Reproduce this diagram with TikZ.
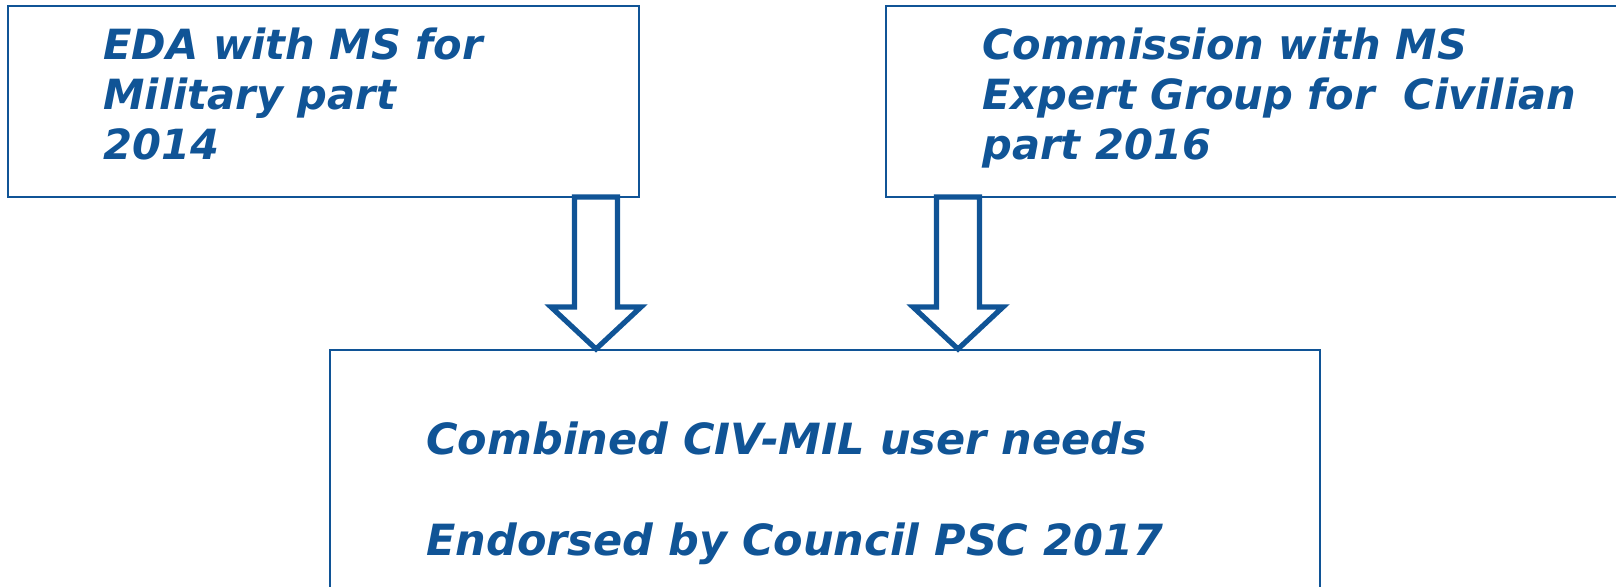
\documentclass[tikz,border=0pt]{standalone}
\usepackage{fontspec}
\setmainfont{DejaVu Sans}
\usepackage{xcolor}
\definecolor{eublue}{RGB}{16,84,150}
\usetikzlibrary{positioning}

\begin{document}
\begin{tikzpicture}[x=0.5pt,y=-0.5pt]
	\tikzstyle{every node}+=[inner sep=0pt]
	\tikzstyle{box}=[draw=eublue, line width=1pt, rectangle, outer sep=0pt, anchor=north west]
	\tikzstyle{lbl}=[text=eublue, font=\fontsize{20.8}{25}\selectfont\bfseries\itshape, align=left, anchor=base west]
	\tikzstyle{hollow}=[draw=eublue, line width=2.6pt, fill=white, line join=miter]
	\useasboundingbox (0,0) rectangle (1616,586);
	\clip (0,0) rectangle (1616,586);
	% the three boxes
	\node [box, minimum width=315.5pt, minimum height=95.5pt] (mil) at (8,6) {};
	\node [box, minimum width=369.5pt, minimum height=95.5pt] (civ) at (886,6) {};
	\node [box, minimum width=495pt, minimum height=125pt] (comb) at (330,350) {};
	% texts (base = last line)
	\node [lbl] (miltext) at (103,159) {EDA with MS for\\Military part\\2014};
	\node [lbl] (civtext) at (982,159) {Commission with MS\\Expert Group for\ \ Civilian\\part 2016};
	\node [lbl, font=\fontsize{21.5}{25.5}\selectfont\bfseries\itshape] (combtext) at (426,555) {Combined CIV-MIL user needs\\[25pt]Endorsed by Council PSC 2017};
	% block arrows
	\coordinate (a1top) at (mil.south -| 596,0);
	\coordinate (a1tip) at ([yshift=0.5pt]comb.north -| 596,0);
	\draw [hollow] (a1top) -- ++(21.5,0) -- ++(0,110) -- ++(23.5,0) -- (a1tip) -- ++(-45,-42) -- ++(23.5,0) -- ++(0,-110) -- cycle;
	\coordinate (a2top) at (civ.south -| 958,0);
	\coordinate (a2tip) at ([yshift=0.5pt]comb.north -| 958,0);
	\draw [hollow] (a2top) -- ++(21.5,0) -- ++(0,110) -- ++(23.5,0) -- (a2tip) -- ++(-45,-42) -- ++(23.5,0) -- ++(0,-110) -- cycle;
\end{tikzpicture}
\end{document}
